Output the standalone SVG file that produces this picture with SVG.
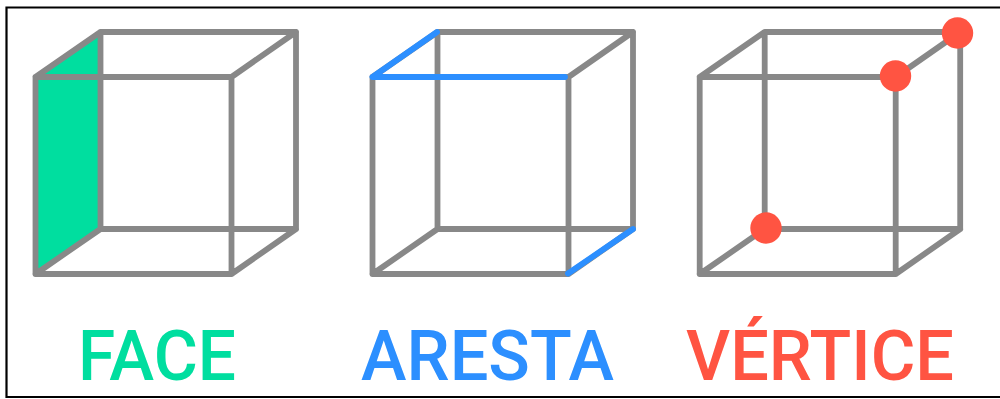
<svg xmlns="http://www.w3.org/2000/svg" width="1000" height="399" viewBox="0 0 1000 399">
<defs>
<style>
.e{fill:none;stroke:#888888;stroke-width:5.800;stroke-linecap:round;stroke-linejoin:round}
.b{fill:none;stroke:#2c8fff;stroke-width:5.800;stroke-linecap:round}
.t{font-family:"Roboto","Liberation Sans",sans-serif;font-size:70px;font-weight:500}
.v{fill:#ff5442}
</style>
<path id="cube" d="M0 45H196V242H0ZM65 0H260.500V197H65ZM0 45L65 0M196 45L260.500 0M0 242L65 197M196 242L260.500 197"/>
</defs>
<rect width="1000" height="399" fill="#fff"/>
<path d="M1000 7.500H6.500V397H1000" fill="none" stroke="#000" stroke-width="2.200"/>
<g id="face">
<polygon points="35.500,77 100.500,32 100.500,229 35.500,274" fill="#00de9f"/>
<use href="#cube" x="35.500" y="32" class="e"/>
<text class="t" x="78" y="380" fill="#00de9f" textLength="158" lengthAdjust="spacingAndGlyphs">FACE</text>
</g>
<g id="aresta">
<use href="#cube" x="372.500" y="32" class="e"/>
<path class="b" d="M372.500 77L437 32M372.500 77H565M568 273.500L633 229"/>
<text class="t" x="361" y="380" fill="#2c8fff" textLength="253" lengthAdjust="spacingAndGlyphs">ARESTA</text>
</g>
<g id="vertice">
<use href="#cube" x="699.700" y="32" class="e"/>
<circle class="v" cx="957.500" cy="33" r="15.700"/>
<circle class="v" cx="895.500" cy="76" r="15.700"/>
<circle class="v" cx="766" cy="228" r="15.700"/>
<text class="t" x="686" y="380" fill="#ff5442" textLength="268" lengthAdjust="spacingAndGlyphs">VÉRTICE</text>
</g>
</svg>
